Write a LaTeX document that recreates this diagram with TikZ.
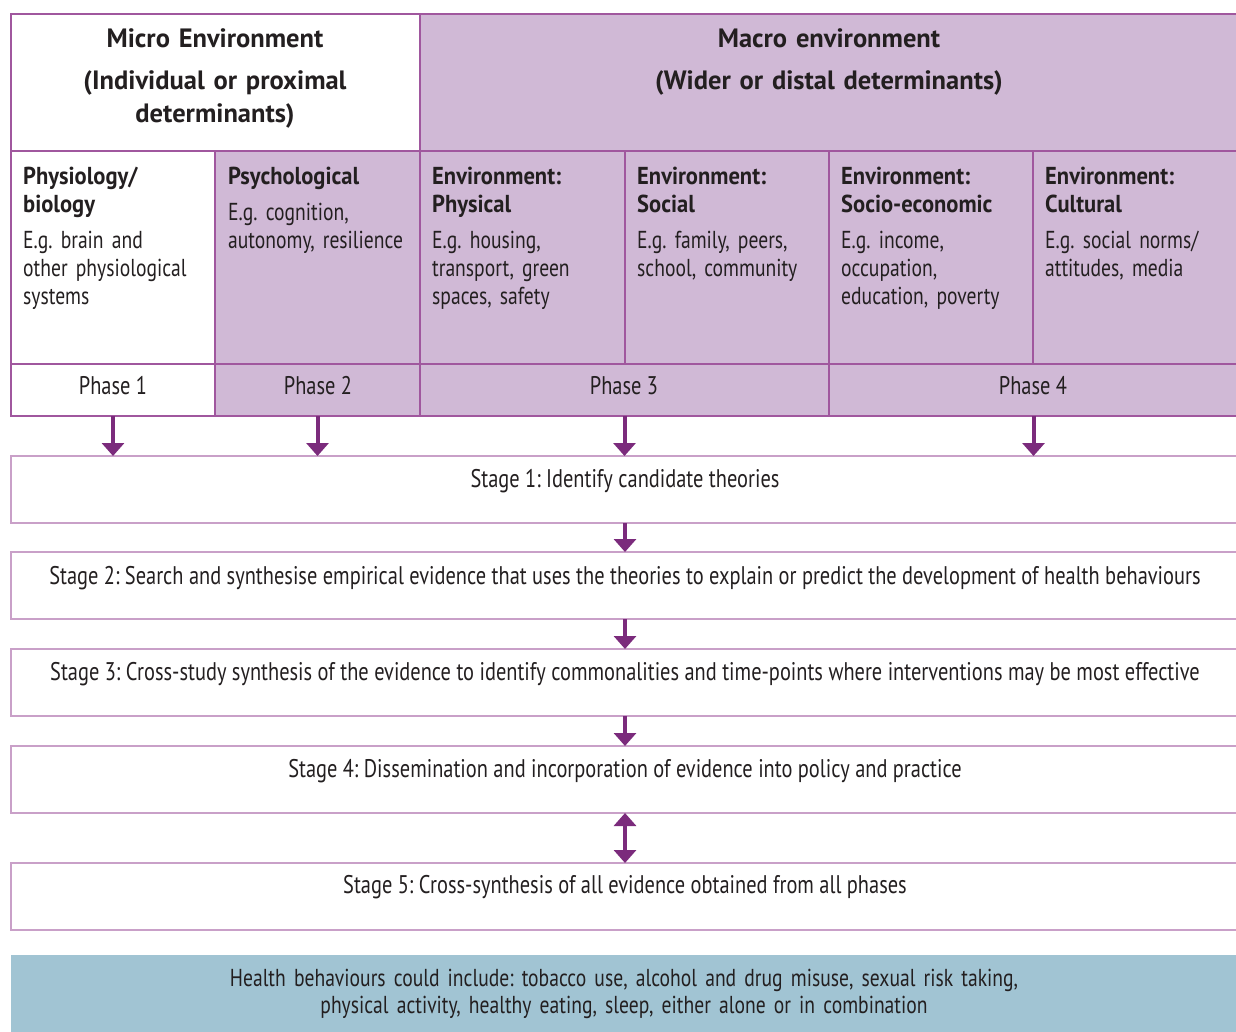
\documentclass[tikz,border=0pt]{standalone}
\usepackage{fontspec}
\setmainfont{PT Sans}[FakeStretch=0.8]
\newfontfamily\ttlfont{PT Sans}[FakeStretch=0.92]
\newfontfamily\hdfont{PT Sans}
\usetikzlibrary{arrows.meta}
\definecolor{tline}{HTML}{A0579E}
\definecolor{sline}{HTML}{C9A0C8}
\definecolor{pfill}{HTML}{D0B9D6}
\definecolor{bfill}{HTML}{A1C4D3}
\definecolor{arrc}{HTML}{7B2B7C}
\definecolor{txt}{HTML}{231F20}
\frenchspacing
\begin{document}
\begin{tikzpicture}[x=1pt,y=-1pt,
  cell/.style={draw=tline,line width=1.5pt,anchor=north west,inner sep=0pt,outer sep=0pt},
  pcell/.style={cell,fill=pfill},
  wcell/.style={cell,fill=white},
  stagebox/.style={draw=sline,line width=1.8pt,anchor=north west,inner sep=0pt,outer sep=0pt,minimum width=1228pt,minimum height=67pt},
  bodytext/.style={text=txt,inner sep=0pt,font=\frenchspacing\fontsize{24.5}{28}\selectfont},
  celltext/.style={bodytext,anchor=base west,text width=200pt,align=left},
  hdtext/.style={text=txt,inner sep=0pt,anchor=base,text width=400pt,align=center,font=\hdfont\frenchspacing\fontsize{26.5}{33}\selectfont\bfseries},
  ctext/.style={text=txt,inner sep=0pt,anchor=base,font=\frenchspacing\fontsize{25.5}{28}\selectfont},
  arr/.style={draw=arrc,line width=4pt,-{Triangle[width=22pt,length=13pt,fill=arrc]}},
  darr/.style={draw=arrc,line width=4pt,{Triangle[width=22pt,length=13pt,fill=arrc]}-{Triangle[width=22pt,length=13pt,fill=arrc]}}
]
\newcommand\ttl[1]{{\ttlfont\bfseries #1}}
\useasboundingbox (0,0) rectangle (1236,1031);
\fill[white] (0,0) rectangle (1236,1031);
% header row
\node[wcell,minimum width=409pt,minimum height=137pt] (micro) at (11,14) {};
\node[pcell,minimum width=820pt,minimum height=137pt] (macro) at (420,14) {};
% content row
\node[wcell,minimum width=204pt,minimum height=213pt] (c1) at (11,151) {};
\node[pcell,minimum width=205pt,minimum height=213pt] (c2) at (215,151) {};
\node[pcell,minimum width=205pt,minimum height=213pt] (c3) at (420,151) {};
\node[pcell,minimum width=204pt,minimum height=213pt] (c4) at (625,151) {};
\node[pcell,minimum width=204pt,minimum height=213pt] (c5) at (829,151) {};
\node[pcell,minimum width=207pt,minimum height=213pt] (c6) at (1033,151) {};
% phase row
\node[wcell,minimum width=204pt,minimum height=52pt] (ph1) at (11,364) {};
\node[pcell,minimum width=205pt,minimum height=52pt] (ph2) at (215,364) {};
\node[pcell,minimum width=409pt,minimum height=52pt] (ph3) at (420,364) {};
\node[pcell,minimum width=409pt,minimum height=52pt] (ph4) at (829,364) {};
% header texts
\node[hdtext] (microt) at (215,47) {Micro Environment\\[9pt] (Individual or proximal\\ determinants)};
\node[hdtext] (macrot) at (829,47) {Macro environment\\[9pt] (Wider or distal determinants)};
% cell texts
\node[celltext] (t1) at (23,184) {\ttl{Physiology/\\ biology}\\[8pt] E.g. brain and\\ other physiological\\ systems};
\node[celltext] (t2) at (228,184) {\ttl{Psychological}\\[8pt] E.g. cognition,\\ autonomy, resilience};
\node[celltext] (t3) at (432,184) {\ttl{Environment:\\ Physical}\\[8pt] E.g. housing,\\ transport, green\\ spaces, safety};
\node[celltext] (t4) at (637,184) {\ttl{Environment:\\ Social}\\[8pt] E.g. family, peers,\\ school, community};
\node[celltext] (t5) at (841,184) {\ttl{Environment:\\ Socio-economic}\\[8pt] E.g. income,\\ occupation,\\ education, poverty};
\node[celltext] (t6) at (1045,184) {\ttl{Environment:\\ Cultural}\\[8pt] E.g. social norms/\\ attitudes, media};
% phase texts
\node[ctext] (pt1) at (113,394) {Phase 1};
\node[ctext] (pt2) at (318,394) {Phase 2};
\node[ctext] (pt3) at (624,394) {Phase 3};
\node[ctext] (pt4) at (1033,394) {Phase 4};
% stages
\node[stagebox] (s1) at (11,456) {};
\node[stagebox] (s2) at (11,552) {};
\node[stagebox] (s3) at (11,649) {};
\node[stagebox] (s4) at (11,746) {};
\node[stagebox] (s5) at (11,863) {};
\node[ctext] (s1t) at (625,487) {Stage 1: Identify candidate theories};
\node[ctext] (s2t) at (625,584) {Stage 2: Search and synthesise empirical evidence that uses the theories to explain or predict the development of health behaviours};
\node[ctext] (s3t) at (625,680) {Stage 3: Cross-study synthesis of the evidence to identify commonalities and time-points where interventions may be most effective};
\node[ctext] (s4t) at (625,777) {Stage 4: Dissemination and incorporation of evidence into policy and practice};
\node[ctext] (s5t) at (625,893) {Stage 5: Cross-synthesis of all evidence obtained from all phases};
% bottom box
\node[fill=bfill,anchor=north west,inner sep=0pt,outer sep=0pt,minimum width=1229pt,minimum height=80pt] (hb) at (11,955) {};
\node[bodytext,anchor=base,text width=1000pt,align=center] (hbt) at (624,986) {Health behaviours could include: tobacco use, alcohol and drug misuse, sexual risk taking,\\[-1pt] physical activity, healthy eating, sleep, either alone or in combination};
% arrows
\draw[arr] (ph1.south) -- (ph1.south |- s1.north);
\draw[arr] (ph2.south) -- (ph2.south |- s1.north);
\draw[arr] (ph3.south) -- (ph3.south |- s1.north);
\draw[arr] (ph4.south) -- (ph4.south |- s1.north);
\draw[arr] (s1.south) -- (s2.north);
\draw[arr] (s2.south) -- (s3.north);
\draw[arr] (s3.south) -- (s4.north);
\draw[darr] (s4.south) -- (s5.north);
\end{tikzpicture}
\end{document}
